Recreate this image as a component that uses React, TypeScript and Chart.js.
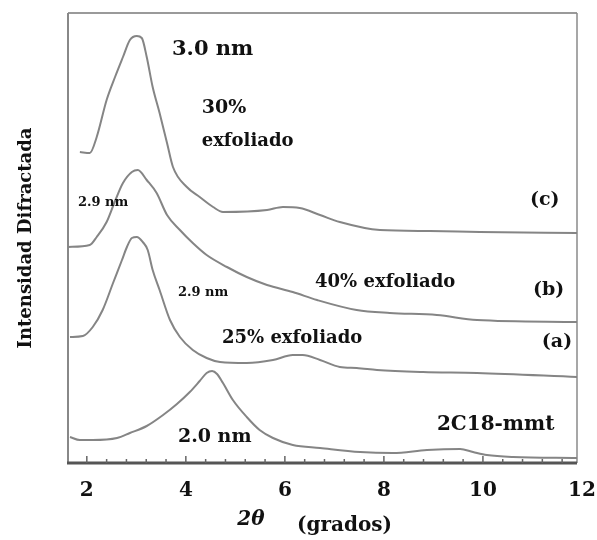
import React, { useEffect, useRef } from "react";
import { Chart, registerables } from "chart.js";

Chart.register(...registerables);

// (c) 30% exfoliado
const thetaC = [1.86, 2.06, 2.2, 2.4, 2.57, 2.73, 2.87, 3.01, 3.11, 3.21, 3.33, 3.47, 3.62, 3.74, 4.02, 4.28, 4.55, 4.75, 5.64, 5.96, 6.3, 6.71, 7.11, 7.92, 8.93, 9.94, 11.9];
const intensityC = [311, 310, 326, 363, 386, 406, 423, 427, 425, 406, 376, 350, 320, 296, 276, 266, 256, 251, 253, 256, 255, 248, 241, 233, 232, 231, 230];

// (b) 40% exfoliado
const thetaB = [1.62, 2.06, 2.2, 2.4, 2.57, 2.73, 2.91, 3.03, 3.21, 3.41, 3.62, 3.88, 4.14, 4.42, 4.83, 5.23, 5.64, 6.16, 6.65, 7.45, 8.12, 9.07, 9.88, 11.9];
const intensityB = [216, 218, 226, 241, 262, 280, 291, 293, 283, 270, 248, 233, 220, 208, 196, 186, 178, 171, 163, 153, 150, 148, 143, 141];

// (a) 25% exfoliado
const thetaA = [1.66, 1.92, 2.12, 2.32, 2.53, 2.71, 2.81, 2.91, 3.01, 3.13, 3.23, 3.33, 3.47, 3.68, 3.88, 4.14, 4.42, 4.69, 5.23, 5.76, 6.16, 6.36, 6.71, 7.11, 7.45, 7.86, 8.79, 9.88, 11.9];
const intensityA = [126, 127, 136, 153, 180, 203, 216, 225, 226, 221, 213, 193, 173, 143, 126, 113, 105, 101, 100, 103, 108, 108, 103, 96, 95, 93, 91, 90, 86];

// 2C18-mmt
const theta2C18 = [1.66, 1.86, 2.12, 2.61, 2.87, 3.21, 3.54, 3.82, 4.08, 4.28, 4.42, 4.53, 4.63, 4.75, 4.95, 5.23, 5.49, 5.76, 6.16, 6.71, 7.52, 8.18, 8.87, 9.54, 9.8, 10.08, 10.61, 11.9];
const intensity2C18 = [26, 23, 23, 25, 30, 37, 48, 59, 71, 82, 90, 92, 89, 80, 63, 46, 33, 25, 18, 15, 11, 10, 13, 14, 11, 8, 6, 5];

const xTickLabels = ["2", "4", "6", "8", "10", "12"];

const annotationTexts = ["3.0 nm", "30%", "exfoliado", "(c)", "2.9 nm", "40% exfoliado", "(b)", "2.9 nm", "25% exfoliado", "(a)", "2.0 nm", "2C18-mmt"];
const annotationX = [3.72, 4.32, 4.32, 10.95, 1.82, 6.61, 11.01, 3.84, 4.73, 11.19, 3.84, 9.07];
const annotationY = [413, 355, 322, 263, 260, 181, 173, 170, 125, 121, 26, 38];
const annotationSize = [21, 19, 18, 19, 13, 18, 19, 13, 18, 19, 19, 20];

const FONT = '"DejaVu Serif", "Liberation Serif", serif';

const decorPlugin = {
  id: "decor",
  beforeDatasetsDraw(chart: any) {
    const { ctx, chartArea: a, scales } = chart;
    const xs = scales.x;
    ctx.save();
    ctx.lineCap = "butt";
    ctx.strokeStyle = "#9a9a9a";
    ctx.lineWidth = 2;
    ctx.beginPath();
    ctx.moveTo(a.left, a.top);
    ctx.lineTo(a.right, a.top);
    ctx.stroke();
    ctx.strokeStyle = "#8a8a8a";
    ctx.lineWidth = 1.5;
    ctx.beginPath();
    ctx.moveTo(a.right, a.top);
    ctx.lineTo(a.right, a.bottom);
    ctx.stroke();
    ctx.strokeStyle = "#888";
    ctx.lineWidth = 2;
    ctx.beginPath();
    ctx.moveTo(a.left, a.top);
    ctx.lineTo(a.left, a.bottom);
    ctx.stroke();
    ctx.strokeStyle = "#555";
    ctx.lineWidth = 3;
    ctx.beginPath();
    ctx.moveTo(a.left - 1, a.bottom);
    ctx.lineTo(a.right, a.bottom);
    ctx.stroke();
    ctx.strokeStyle = "#666";
    ctx.lineWidth = 1.5;
    for (let k = 0; k <= 25; k++) {
      const v = 2 + k * 0.4;
      if (v > xs.max) break;
      const px = xs.getPixelForValue(v);
      const major = Math.abs(v - Math.round(v)) < 1e-6 && Math.round(v) % 2 === 0;
      ctx.beginPath();
      ctx.moveTo(px, a.bottom);
      ctx.lineTo(px, a.bottom - (major ? 7 : 4));
      ctx.stroke();
    }
    ctx.restore();
  },
  afterDraw(chart: any) {
    const { ctx, chartArea: a, scales } = chart;
    const xs = scales.x;
    const ys = scales.y;
    ctx.save();
    ctx.fillStyle = "#111";
    ctx.font = `bold 20px ${FONT}`;
    ctx.textAlign = "center";
    ctx.textBaseline = "middle";
    xTickLabels.forEach((t) => {
      ctx.fillText(t, xs.getPixelForValue(Number(t)), a.bottom + 28);
    });
    ctx.font = `italic bold 20px ${FONT}`;
    ctx.fillText("2θ", 251, a.bottom + 57);
    ctx.font = `bold 20px ${FONT}`;
    ctx.textAlign = "left";
    ctx.fillText("(grados)", 297, a.bottom + 63);
    ctx.save();
    ctx.translate(26, 238);
    ctx.rotate(-Math.PI / 2);
    ctx.textAlign = "center";
    ctx.font = `bold 18px ${FONT}`;
    ctx.fillText("Intensidad Difractada", 0, 0);
    ctx.restore();
    ctx.textAlign = "left";
    ctx.textBaseline = "middle";
    annotationTexts.forEach((t, i) => {
      ctx.font = `bold ${annotationSize[i]}px ${FONT}`;
      ctx.fillText(t, xs.getPixelForValue(annotationX[i]), ys.getPixelForValue(annotationY[i]));
    });
    ctx.restore();
  },
};

function series(xv: number[], yv: number[]) {
  return xv.map((x, i) => ({ x, y: yv[i] }));
}

export default function App() {
  const ref = useRef<HTMLCanvasElement | null>(null);
  useEffect(() => {
    if (!ref.current) return;
    const common = {
      borderColor: "#858585",
      borderWidth: 2,
      pointRadius: 0,
      tension: 0.3,
      cubicInterpolationMode: "monotone" as const,
      fill: false,
    };
    const chart = new Chart(ref.current, {
      type: "line",
      data: {
        datasets: [
          { label: "(c)", data: series(thetaC, intensityC), ...common },
          { label: "(b)", data: series(thetaB, intensityB), ...common },
          { label: "(a)", data: series(thetaA, intensityA), ...common },
          { label: "2C18-mmt", data: series(theta2C18, intensity2C18), ...common },
        ],
      },
      options: {
        animation: false,
        responsive: false,
        devicePixelRatio: 1,
        layout: { padding: { left: 68, right: 20, top: 13, bottom: 77 } },
        plugins: { legend: { display: false }, tooltip: { enabled: false } },
        scales: {
          x: { type: "linear", min: 1.62, max: 11.9, display: false },
          y: { type: "linear", min: 0, max: 450, display: false },
        },
      },
      plugins: [decorPlugin],
    });
    return () => chart.destroy();
  }, []);
  return (
    <div style={{ position: "fixed", left: 0, top: 0, width: 597, height: 540, background: "#fff" }}>
      <canvas ref={ref} width={597} height={540} style={{ width: 597, height: 540, display: "block" }} />
    </div>
  );
}
